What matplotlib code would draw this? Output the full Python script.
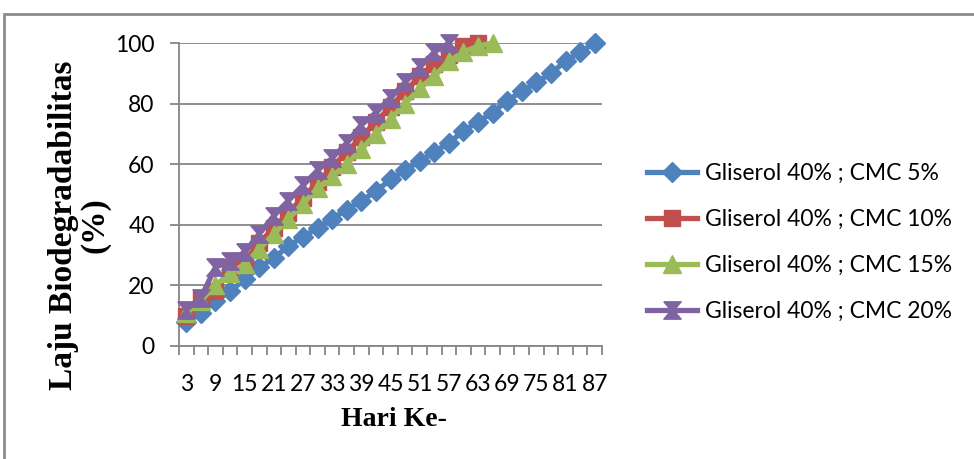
import numpy as np
import matplotlib
matplotlib.use("Agg")
import matplotlib.pyplot as plt
from matplotlib.patches import Rectangle

# sampling days (every 3 days)
days = list(range(3, 88, 3))

# biodegradation rate (%) per formulation, glycerol fixed at 40%
cmc5 = [8, 11, 15, 18, 22, 26, 29, 33, 36, 39, 42, 45, 48, 51, 55,
        58, 61, 64, 67, 71, 74, 77, 81, 84, 87, 90, 94, 97, 100]
cmc10 = [10, 16, 18, 26, 28, 34, 39, 44, 49, 54, 59, 64, 69, 74, 79,
         84, 89, 93, 96, 99, 100]
cmc15 = [11, 15, 20, 24, 27, 32, 37, 42, 47, 52, 56, 60, 65, 70, 75,
         80, 85, 89, 94, 97, 99, 100]
cmc20 = [12, 16, 26, 28, 31, 37, 43, 48, 53, 58, 62, 67, 73, 77, 82,
         87, 92, 97, 100]

labels = ["Gliserol 40% ; CMC 5%", "Gliserol 40% ; CMC 10%",
          "Gliserol 40% ; CMC 15%", "Gliserol 40% ; CMC 20%"]
colors = ["#4F81BD", "#C0504D", "#9BBB59", "#8064A2"]

# hourglass marker
hourglass = [(-1, 1), (1, 1), (0.15, 0), (1, -1), (-1, -1), (-0.15, 0), (-1, 1)]
markers = ["D", "s", "^", hourglass]
msizes = [10, 11, 12.5, 12.5]

plt.rcParams['font.family'] = ['Lato', 'DejaVu Sans']

fig = plt.figure(figsize=(9.74, 4.59), dpi=100)
ax = fig.add_axes([179/974, 1 - 346/459, (602 - 179)/974, (346 - 43)/459])

x = np.arange(len(days))
for vals, lab, c, m, ms in zip([cmc5, cmc10, cmc15, cmc20], labels, colors, markers, msizes):
    ax.plot(x[:len(vals)], vals, color=c, lw=3.8, marker=m, ms=ms,
            mfc=c, mec=c, label=lab, clip_on=False, zorder=3)

ax.set_xlim(-0.5, len(days) - 0.5)
ax.set_ylim(0, 100)
ax.set_yticks(range(0, 101, 20))
ax.yaxis.grid(True, color="#868686", lw=1.3)
ax.set_axisbelow(True)

# category ticks at boundaries, labels on every second day
ax.set_xticks(x[::2])
ax.set_xticklabels([str(d) for d in days[::2]])
ax.set_xticks(np.arange(-0.5, len(days)), minor=True)
ax.tick_params(axis="x", which="major", length=0, pad=20, labelsize=16.5)
ax.tick_params(axis="x", which="minor", length=6.5, width=1.3, color="#868686")
ax.tick_params(axis="y", length=6.5, width=1.3, color="#868686", pad=11, labelsize=16.5)

for s in ["top", "right"]:
    ax.spines[s].set_visible(False)
for s in ["left", "bottom"]:
    ax.spines[s].set_color("#868686")
    ax.spines[s].set_linewidth(1.3)

fig.text(79/974, 1 - 225/459, "Laju Biodegradabilitas\n(%)", rotation=90,
         ha="center", va="center", multialignment="center",
         family="Liberation Serif", weight="bold", fontsize=24, linespacing=1.0)
fig.text(394/974, 1 - 420/459, "Hari Ke-", ha="center", va="center",
         family="Liberation Serif", weight="bold", fontsize=20)

fig.legend(loc="center left", bbox_to_anchor=(647/974, 1 - 242.5/459),
           frameon=False, fontsize=16.5, handlelength=2.2, handletextpad=0.35,
           labelspacing=1.1, borderpad=0, borderaxespad=0, numpoints=1)

# outer chart frame
fig.add_artist(Rectangle((4/974, -0.1), 1.2, 1 - 14/459 + 0.1, transform=fig.transFigure,
                         fill=False, ec="#8c8c8c", lw=2))

fig.savefig("out.png", dpi=100)
